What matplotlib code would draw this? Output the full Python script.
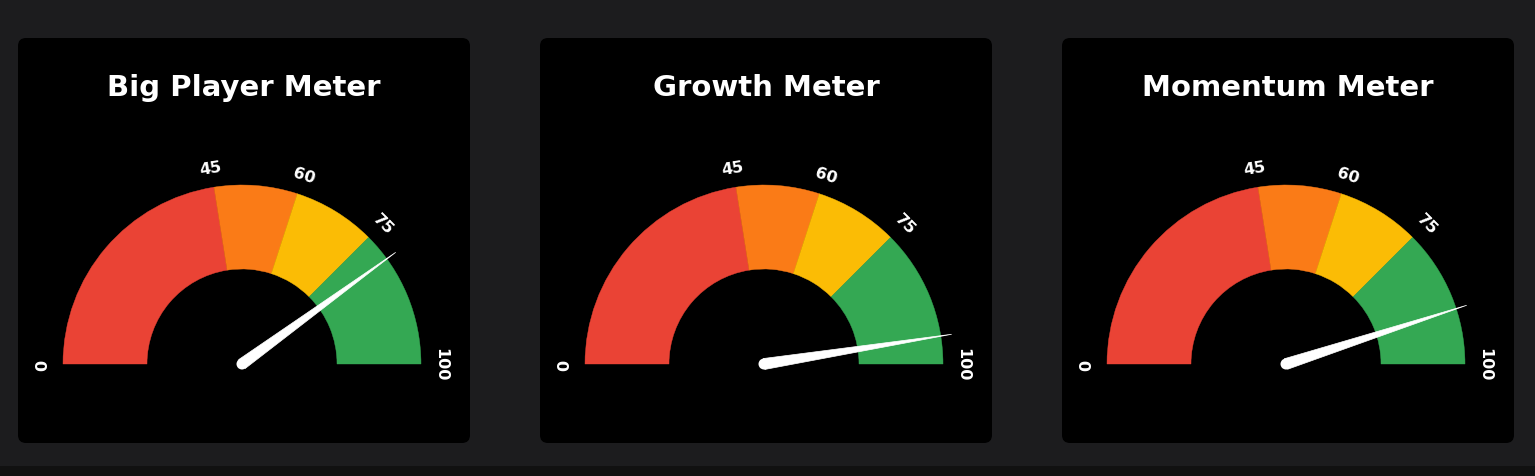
import numpy as np
import matplotlib
matplotlib.use("Agg")
from matplotlib import pyplot as plt
from matplotlib.patches import Wedge, FancyBboxPatch, Polygon, Circle, Rectangle

titles = ["Big Player Meter", "Growth Meter", "Momentum Meter"]
values = [80, 95, 90]
bounds = [0, 45, 60, 75, 100]
band_colors = ["#EA4335", "#FA7B17", "#FBBC05", "#34A853"]

W, H = 1535, 477
fig = plt.figure(figsize=(W / 100, H / 100), dpi=100)
fig.patch.set_facecolor("#1c1c1e")
ax = fig.add_axes([0, 0, 1, 1])
ax.set_xlim(0, W)
ax.set_ylim(0, H)
ax.axis("off")

# darker strip at the bottom
ax.add_patch(Rectangle((0, 0), W, 10.5, color="#111111", lw=0))

R, r = 179, 95


def ang(v):
    # value 0..100 -> degrees 180..0
    return 180 - v * 1.8


for i, (title, val) in enumerate(zip(titles, values)):
    x0 = 18 + 522 * i
    ax.add_patch(FancyBboxPatch((x0 + 8, 41), 452 - 16, 405 - 16,
                                boxstyle="round,pad=8", fc="black", ec="none"))
    cx, cy = x0 + 224, 112

    ax.text(x0 + 226, 389, title, color="white", fontsize=21,
            fontweight="bold", ha="center", va="center")

    for lo, hi, c in zip(bounds[:-1], bounds[1:], band_colors):
        ax.add_patch(Wedge((cx, cy), R, ang(hi), ang(lo), width=R - r,
                           fc=c, ec=c, lw=0.3))

    for b in bounds:
        t = np.radians(ang(b))
        rr = R + 20
        ax.text(cx + rr * np.cos(t), cy + rr * np.sin(t), str(b),
                color="white", fontsize=11.5, fontweight="bold",
                ha="center", va="center", rotation=ang(b) - 90,
                rotation_mode="anchor")

    # needle
    t = np.radians(ang(val))
    L = 190
    hw = 5.5
    ux, uy = np.cos(t), np.sin(t)
    px, py = -uy, ux
    tip = (cx + L * ux, cy + L * uy)
    pts = [(cx + hw * px, cy + hw * py), tip, (cx - hw * px, cy - hw * py)]
    ax.add_patch(Polygon(pts, closed=True, fc="white", ec="white", lw=0.5))
    ax.add_patch(Circle((cx, cy), hw, fc="white", ec="none"))

fig.savefig("out.png", dpi=100, facecolor=fig.get_facecolor())
